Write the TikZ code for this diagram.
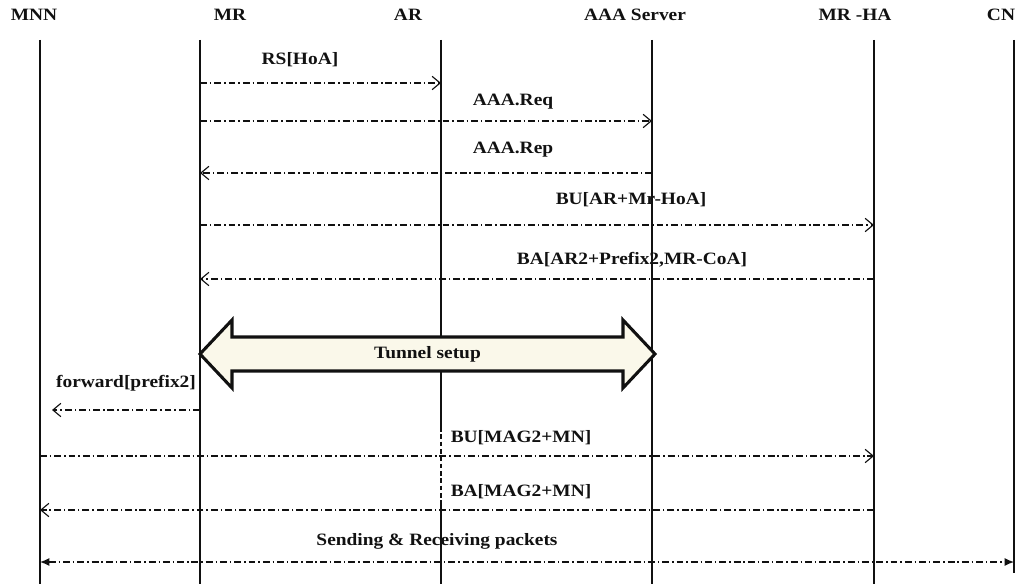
\documentclass[tikz,border=0pt]{standalone}
\usepackage{fontspec}
\setmainfont{Liberation Serif}[FakeStretch=1.12]
\usetikzlibrary{arrows.meta,calc}
\definecolor{ink}{HTML}{111111}
\definecolor{cream}{HTML}{FAF8EA}
\tikzset{
  every node/.style={font=\bfseries\fontsize{13}{15}\selectfont,text=ink,inner sep=0},
  life/.style={line width=1.2pt,draw=ink},
  dashdot/.style={dash pattern=on 5.2pt off 2.2pt on 1.1pt off 2.2pt},
  msg/.style={dashdot,-{Straight Barb[length=6pt,width=10pt]},line width=.85pt,draw=ink},
  packets/.style={dashdot,{Latex[length=7pt,width=6pt]}-{Latex[length=7pt,width=6pt]},line width=.85pt,draw=ink},
  tunnel/.style={draw=ink,line width=2.3pt,fill=cream,line join=miter}
}
\begin{document}
\begin{tikzpicture}[x=0.75pt,y=-0.75pt]
  \path[use as bounding box] (0,0) rectangle (1031,584);

  % entities
  \node (mnn) at (34,15) {MNN};
  \node (mr) at (230,15) {MR};
  \node (ar) at (408,15) {AR};
  \node (aaa) at (635,15) {AAA Server};
  \node (mrha) at (855,15) {MR -HA};
  \node (cn) at (1001,15) {CN};

  % lifelines
  \foreach \n/\x in {mnn/40,mr/200,ar/441,aaa/652,mrha/874,cn/1014} {
    \coordinate (\n l) at (\x,40);
  }
  \coordinate (ar1) at (441,427);
  \coordinate (ar2) at (441,500);
  \draw[life] (mnnl) -- ++(0,544);
  \draw[life] (mrl) -- ++(0,544);
  \draw[life] (arl) -- (ar1);
  \draw[life,dash pattern=on 3.5pt off 2pt] (ar1) -- (ar2);
  \draw[life] (ar2) -- ++(0,84);
  \draw[life] (aaal) -- ++(0,544);
  \draw[life] (mrhal) -- ++(0,544);
  \draw[life] (cnl) -- ++(0,533);

  % message levels
  \foreach \m/\y in {m1/83,m2/121,m3/173,m4/225,m5/279,m7/410,m8/456,m9/510,m10/562} {
    \coordinate (\m) at (0,\y);
  }

  \node (rs) at (300,60) {RS[HoA]};
  \draw[msg] (mrl |- m1) -- (arl |- m1);
  \node (aaareq) at (513,102) {AAA.Req};
  \draw[msg] (mrl |- m2) -- (aaal |- m2);
  \node (aaarep) at (513,150) {AAA.Rep};
  \draw[msg] (aaal |- m3) -- (mrl |- m3);
  \node (bu1) at (631,200) {BU[AR+Mr-HoA]};
  \draw[msg] (mrl |- m4) -- (mrhal |- m4);
  \node (ba1) at (632,260) {BA[AR2+Prefix2,MR-CoA]};
  \draw[msg] (mrhal |- m5) -- (mrl |- m5);

  % tunnel
  \coordinate (tl) at (200,354);
  \coordinate (tr) at (655,354);
  \draw[tunnel] (tl) -- ++(32,-34) -- ++(0,17) -- ($(tr)+(-32,-17)$) -- ++(0,-17) -- (tr)
    -- ++(-32,34) -- ++(0,-17) -- ($(tl)+(32,17)$) -- ++(0,17) -- cycle;
  \node (tunnellbl) at ($(tl)!.5!(tr)$) {Tunnel setup};

  \node (fwdlbl) at (126,383) {forward[prefix2]};
  \coordinate (fwd) at (52,410);
  \draw[msg] (mrl |- m7) -- (fwd);
  \node (bu2) at (521,438) {BU[MAG2+MN]};
  \draw[msg] (mnnl |- m8) -- (mrhal |- m8);
  \node (ba2) at (521,492) {BA[MAG2+MN]};
  \draw[msg] (mrhal |- m9) -- (mnnl |- m9);
  \node (pkts) at (437,541) {Sending \& Receiving packets};
  \draw[packets] (mnnl |- m10) -- (cnl |- m10);
\end{tikzpicture}
\end{document}
